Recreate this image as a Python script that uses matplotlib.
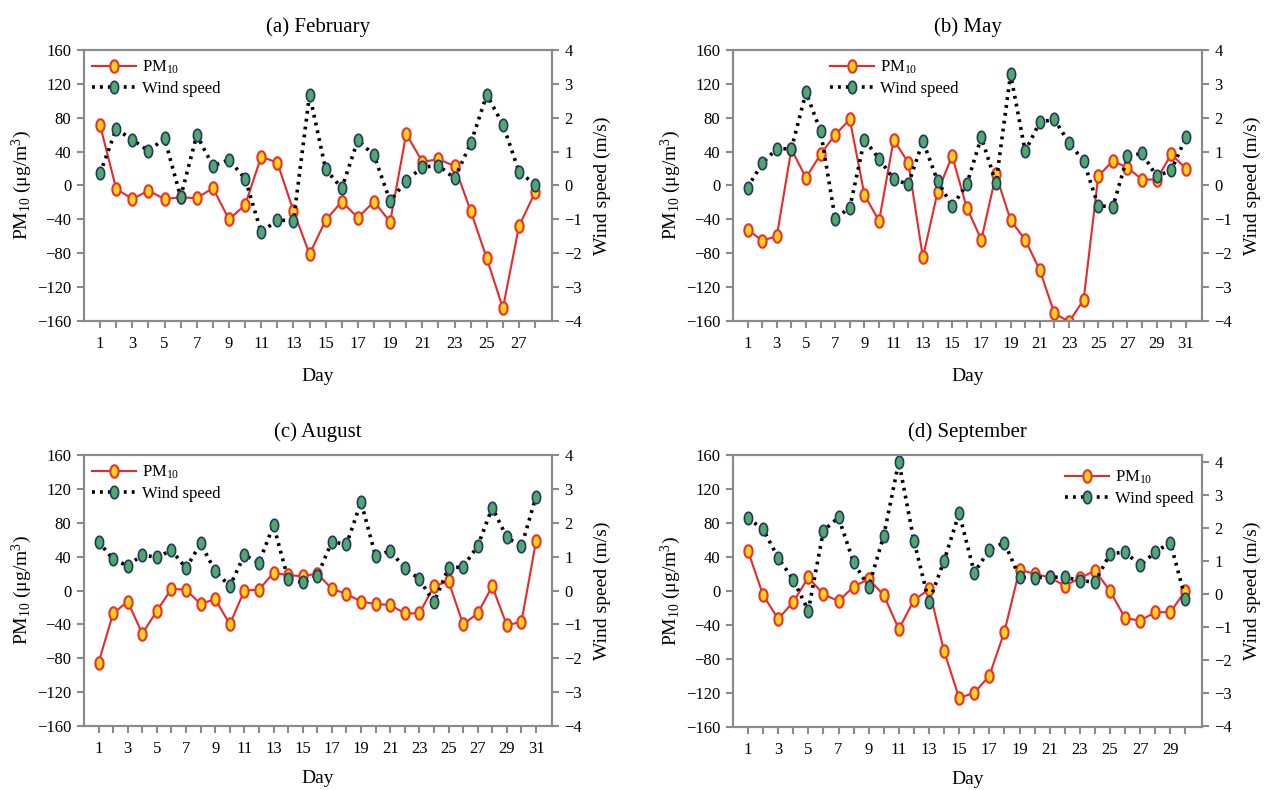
#!/usr/bin/env python3
# Daily PM10 and wind speed, four months, twin y axes per panel

import numpy as np
import matplotlib
matplotlib.use("Agg")
import matplotlib.pyplot as plt

# -----------------------------
# Data
# -----------------------------
feb_days = list(range(1, 29))
feb_pm10 = [71, -4, -16, -6, -16, -14, -15, -3, -40, -23, 34, 27, -30, -81,
            -41, -19, -38, -19, -43, 61, 28, 31, 23, -30, -86, -145, -48, -8]
feb_wind = [0.36, 1.67, 1.35, 1.02, 1.39, -0.34, 1.49, 0.58, 0.76, 0.20,
            -1.38, -1.02, -1.04, 2.68, 0.48, -0.08, 1.34, 0.89, -0.46, 0.14,
            0.54, 0.59, 0.21, 1.24, 2.68, 1.80, 0.41, 0.02]

may_days = list(range(1, 32))
may_pm10 = [-52, -65, -60, 43, 9, 37, 60, 78, -11, -42, 54, 27, -85, -8, 35,
            -26, -64, 13, -41, -64, -100, -151, -161, -135, 11, 29, 21, 7, 7,
            37, 20]
may_wind = [-0.06, 0.65, 1.09, 1.08, 2.75, 1.60, -0.99, -0.65, 1.35, 0.79,
            0.19, 0.03, 1.31, 0.14, -0.62, 0.03, 1.43, 0.07, 3.28, 1.01,
            1.87, 1.95, 1.26, 0.72, -0.60, -0.63, 0.86, 0.95, 0.27, 0.45, 1.42]

aug_days = list(range(1, 32))
aug_pm10 = [-85, -27, -13, -51, -24, 2, 1, -16, -10, -40, 0, 1, 21, 18, 17,
            20, 2, -4, -13, -16, -17, -27, -27, 5, 11, -40, -27, 5, -41, -37, 58]
aug_wind = [1.44, 0.92, 0.73, 1.05, 0.98, 1.19, 0.66, 1.39, 0.57, 0.13,
            1.05, 0.82, 1.93, 0.33, 0.24, 0.43, 1.44, 1.36, 2.61, 1.02,
            1.17, 0.66, 0.34, -0.35, 0.66, 0.70, 1.31, 2.45, 1.57, 1.30, 2.77]

sep_days = list(range(1, 31))
sep_pm10 = [47, -5, -33, -13, 16, -4, -12, 5, 14, -5, -45, -11, 2, -71, -126,
            -120, -100, -48, 25, 20, 16, 6, 15, 24, 0, -32, -35, -25, -25, 0]
sep_wind = [2.29, 1.95, 1.09, 0.42, -0.51, 1.91, 2.31, 0.95, 0.21, 1.76,
            4.00, 1.60, -0.25, 1.00, 2.44, 0.64, 1.33, 1.55, 0.50, 0.49,
            0.50, 0.50, 0.40, 0.35, 1.21, 1.26, 0.86, 1.26, 1.55, -0.15]

titles = ["(a) February", "(b) May", "(c) August", "(d) September"]

# -----------------------------
# Style
# -----------------------------
plt.rcParams.update({
    "font.family": ["Liberation Serif", "DejaVu Serif"],
    "mathtext.fontset": "custom",
    "mathtext.rm": "Liberation Serif",
    "mathtext.it": "Liberation Serif:italic",
    "axes.edgecolor": "#8a8a8a",
    "axes.linewidth": 1.5,
    "xtick.color": "#8a8a8a",
    "ytick.color": "#8a8a8a",
    "xtick.labelcolor": "black",
    "ytick.labelcolor": "black",
    "xtick.labelsize": 12,
    "ytick.labelsize": 12,
    "axes.labelsize": 14,
})

PM_LINE = "#e8282a"
PM_FACE = "#ffd21c"
PM_EDGE = "#e8322a"
WS_FACE = "#52a866"
WS_EDGE = "#1f3a6a"

# slightly tall ellipse marker, as in the original
t = np.linspace(0, 2 * np.pi, 41)
ellipse = list(zip(0.66 * np.cos(t), np.sin(t)))

fig = plt.figure(figsize=(12.65, 7.9), dpi=100)

# [left, bottom, width, height] of each panel, fixed to match the original
boxes = [
    [0.0664, 0.5937, 0.3700, 0.3430],
    [0.5794, 0.5937, 0.3708, 0.3430],
    [0.0664, 0.0810, 0.3700, 0.3430],
    [0.5794, 0.0800, 0.3708, 0.3440],
]
panels = [
    (feb_days, feb_pm10, feb_wind, 29.05, (-4, 4), dict(loc="upper left", bbox_to_anchor=(0.0, 1.0))),
    (may_days, may_pm10, may_wind, 32.1, (-4, 4), dict(loc="upper left", bbox_to_anchor=(0.19, 1.0))),
    (aug_days, aug_pm10, aug_wind, 32.1, (-4, 4), dict(loc="upper left", bbox_to_anchor=(0.0, 1.0))),
    (sep_days, sep_pm10, sep_wind, 31.1, (-4.03, 4.2), dict(loc="upper right", bbox_to_anchor=(1.0, 0.98))),
]

for i, (box, title, (days, pm, ws, xmax, wlim, legkw)) in enumerate(zip(boxes, titles, panels)):
    ax = fig.add_axes(box)
    ax2 = ax.twinx()

    l1, = ax.plot(days, pm, color=PM_LINE, lw=1.5, marker=ellipse, ms=9,
                  mfc=PM_FACE, mec=PM_EDGE, mew=1.5, label="PM$_{\\mathregular{10}}$")
    l2, = ax2.plot(days, ws, color="black", lw=2.6, ls=(0, (0.8, 1.4)),
                   marker=ellipse, ms=9, mfc=WS_FACE, mec=WS_EDGE, mew=1.2,
                   label="Wind speed")

    ax.set_xlim(0, xmax)
    ax.set_ylim(-160, 160)
    ax.set_yticks(range(-160, 161, 40))
    ax2.set_ylim(*wlim)
    ax2.set_yticks(range(-4, 5))

    # one tick per day, odd days labelled (the last tick is left bare)
    ticks = list(range(1, int(xmax)))
    ax.set_xticks(ticks)
    ax.set_xticklabels([str(d) if d % 2 == 1 and d < 30 or d == 31 and len(days) == 31 else ""
                        for d in ticks])

    for a in (ax, ax2):
        a.tick_params(direction="out", length=5, width=1.5, pad=4)
    ax.tick_params(axis="x", pad=6)

    ax.set_xlabel("Day", labelpad=11 if i < 2 else 9)
    ax.set_ylabel("PM$_{\\mathregular{10}}$ (\u03bcg/m$^{\\mathregular{3}}$)", labelpad=2)
    ax2.set_ylabel("Wind speed (m/s)", labelpad=8)
    ax.set_title(title, fontsize=15, pad=13)

    ax2.legend(handles=[l1, l2], frameon=False, fontsize=12, handlelength=2.6,
               handletextpad=0.4, labelspacing=0.3, borderaxespad=0.3,
               borderpad=0.2, **legkw)

fig.savefig("out.png", dpi=100)
